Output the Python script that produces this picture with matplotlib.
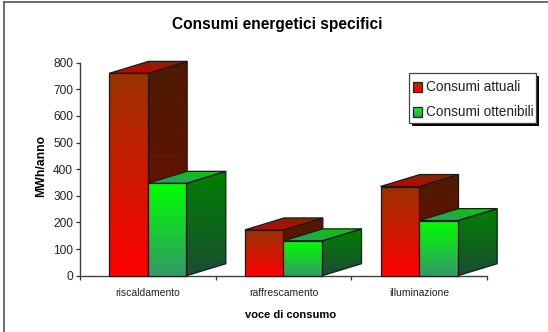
import numpy as np
import matplotlib
matplotlib.use("Agg")
import matplotlib.pyplot as plt
from matplotlib.colors import LinearSegmentedColormap
from matplotlib.lines import Line2D
from matplotlib.patches import Polygon, Rectangle

plt.rcParams['font.family'] = ['Liberation Sans', 'DejaVu Sans']

# Data
categories = ["riscaldamento", "raffrescamento", "illuminazione"]
attuali = [760, 172, 335]
ottenibili = [347, 131, 207]
series_names = ["Consumi attuali", "Consumi ottenibili"]
y_ticks = [0, 100, 200, 300, 400, 500, 600, 700, 800]

# Face colours, top of the bar first
red_front = ["#993300", "#ff0000"]
red_side = ["#4d1a00", "#6e0f00"]
red_top = ["#7a2a00", "#cc0000"]
green_front = ["#00ff00", "#339966"]
green_side = ["#008000", "#1a4d33"]
green_top = ["#00cc00", "#339966"]

bar_w = 0.285
depth_x = 0.29
depth_y = 45
z = [3]


def shade(ax, colors, poly, lo, hi):
    # gradient image clipped to a polygon, plus the outline
    cmap = LinearSegmentedColormap.from_list("g", colors)
    grad = np.linspace(0, 1, 128).reshape(-1, 1)
    xs = [p[0] for p in poly]
    img = ax.imshow(grad, cmap=cmap, aspect='auto', origin='upper', zorder=z[0],
                    extent=(min(xs), max(xs), lo, hi), interpolation='bilinear')
    outline = Polygon(poly, closed=True, fc='none', ec='#1a1a1a', lw=0.9, zorder=z[0] + 0.1,
                      joinstyle='miter', clip_on=False)
    ax.add_patch(outline)
    # bars stick out past the axes, so only the polygon may clip
    img.set_clip_box(ax.figure.bbox)
    img.set_clip_path(outline)
    z[0] += 1


def draw_bar(ax, x0, h, front, side, top):
    x1 = x0 + bar_w
    # right side
    shade(ax, side, [(x1, 0), (x1 + depth_x, depth_y), (x1 + depth_x, h + depth_y), (x1, h)],
          0, h + depth_y)
    # top
    shade(ax, top, [(x0, h), (x1, h), (x1 + depth_x, h + depth_y), (x0 + depth_x, h + depth_y)],
          h, h + depth_y)
    # front
    shade(ax, front, [(x0, 0), (x1, 0), (x1, h), (x0, h)], 0, h)


fig = plt.figure(figsize=(5.48, 3.32), dpi=100)
W, H = 548, 332
ax = fig.add_axes([80 / W, 1 - 275.7 / H, 407 / W, 213 / H])
ax.patch.set_visible(False)

# Frame lines along the top and left of the chart
fig.add_artist(Line2D([3.5 / W, 3.5 / W], [0, 1 - 1.5 / H], color='#555555', lw=1.2))
fig.add_artist(Line2D([3.5 / W, 1], [1 - 1.5 / H, 1 - 1.5 / H], color='#555555', lw=1.2))

for i in range(len(categories)):
    draw_bar(ax, i + 0.5 - bar_w, attuali[i], red_front, red_side, red_top)
    draw_bar(ax, i + 0.5, ottenibili[i], green_front, green_side, green_top)
ax.set_xlim(0, 3)
ax.set_ylim(0, 800)

for s in ['top', 'right']:
    ax.spines[s].set_visible(False)
for s in ['left', 'bottom']:
    ax.spines[s].set_color('#404040')
    ax.spines[s].set_linewidth(1.0)

ax.set_yticks(y_ticks)
ax.set_xticks([0, 1, 2, 3])
ax.set_xticklabels([])
ax.set_xticks([0.5, 1.5, 2.5], categories, minor=True)
ax.tick_params(axis='x', which='minor', length=0, labelsize=7.5, pad=9, labelcolor='#222222')
ax.tick_params(axis='x', which='major', length=3, width=0.9, color='#333333', direction='out')
ax.tick_params(axis='y', length=3, width=0.9, color='#333333', labelsize=8.6, pad=2, labelcolor='#222222')

ax.set_ylabel("MWh/anno", fontsize=8.8, fontweight='bold')
ax.yaxis.set_label_coords(-0.081, 0.515)
ax.set_xlabel("voce di consumo", fontsize=8, fontweight='bold')
ax.xaxis.set_label_coords(0.518, -0.163)
fig.text(277 / W, 1 - 25 / H, "Consumi energetici specifici", fontsize=11.2, fontweight='bold',
         ha='center', va='center')

# Legend box with a hard drop shadow
fig.add_artist(Rectangle((412 / W, 1 - 125.7 / H), 127 / W, 49.4 / H, transform=fig.transFigure,
                         fc='black', ec='none', zorder=5))
fig.add_artist(Rectangle((409 / W, 1 - 122.7 / H), 127 / W, 49.4 / H, transform=fig.transFigure,
                         fc='white', ec='#444444', lw=0.9, zorder=6))
for name, colors, row in zip(series_names, [red_front, green_front], [87, 112]):
    swatch = LinearSegmentedColormap.from_list("s", colors)
    n = 10
    for k in range(n):
        fig.add_artist(Rectangle((413.3 / W, 1 - (row - 5 + k + 1) / H), 8.2 / W, 1 / H,
                                 transform=fig.transFigure, fc=swatch(k / (n - 1)), ec='none', zorder=7))
    fig.add_artist(Rectangle((413.3 / W, 1 - (row + 5) / H), 8.2 / W, 10 / H, transform=fig.transFigure,
                             fc='none', ec='#222222', lw=0.9, zorder=8))
    fig.text(425.5 / W, 1 - row / H, name, fontsize=9.8, va='center', ha='left', color='#222222', zorder=8)

fig.savefig("out.png", dpi=100)
